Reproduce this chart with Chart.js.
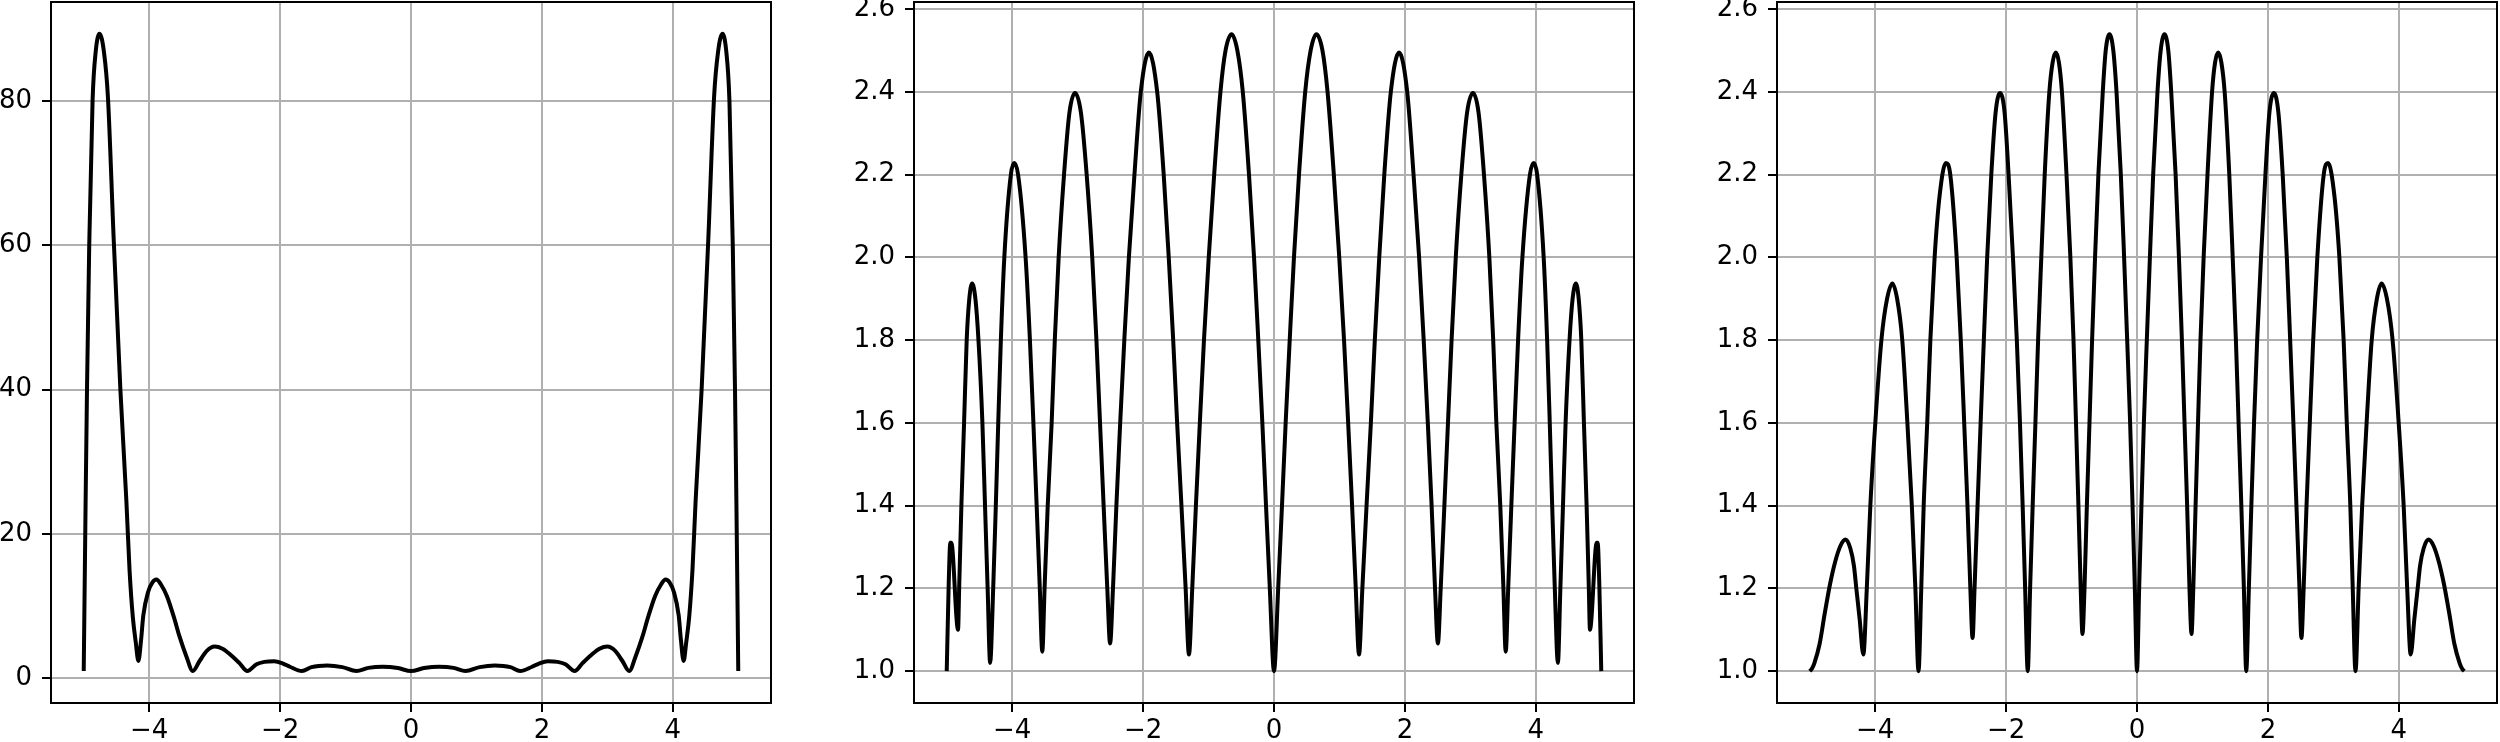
<!DOCTYPE html>
<html>
<head>
<meta charset="utf-8">
<script src="https://cdn.jsdelivr.net/npm/chart.js@4.4.1/dist/chart.umd.min.js"></script>
<style>
  html, body { margin: 0; padding: 0; background: #fff; }
  body { width: 2500px; height: 742px; position: relative; overflow: hidden; }
  canvas { position: absolute; top: 0; }
</style>
</head>
<body>
<canvas id="equiChart" width="780" height="742" style="left:0px"></canvas>
<canvas id="middleChart" width="830" height="742" style="left:814px"></canvas>
<canvas id="rightChart" width="823" height="742" style="left:1677px"></canvas>
<script>
// tick positions shared by the three panels
const xTicks = [-4, -2, 0, 2, 4];
const yTicksLeft = [0, 20, 40, 60, 80];
const yTicksRatio = [1.0, 1.2, 1.4, 1.6, 1.8, 2.0, 2.2, 2.4, 2.6];

// left panel: [x, value], lobe by lobe
const equiPoints = [
    [-5.0, 1.0], [-4.971, 24.7], [-4.95, 40], [-4.916, 60], [-4.865, 80], [-4.815, 87], [-4.758, 89.3],
    [-4.69, 86.7], [-4.63, 80.5], [-4.543, 61], [-4.44, 40], [-4.349, 24.7], [-4.30, 15], [-4.25, 8.5], [-4.205, 5.0], [-4.165, 2.4],
    [-4.124, 5.3], [-4.09, 8.7], [-4.015, 12.0], [-3.95, 13.3], [-3.89, 13.7], [-3.82, 13.0], [-3.73, 11.4], [-3.62, 8.4], [-3.537, 5.8], [-3.43, 3.0], [-3.333, 1.0],
    [-3.23, 2.4], [-3.12, 3.8], [-3.0, 4.4], [-2.88, 4.1], [-2.75, 3.2], [-2.62, 2.1], [-2.5, 1.0],
    [-2.36, 1.95], [-2.24, 2.28], [-2.09, 2.38], [-1.955, 2.05], [-1.85, 1.6], [-1.667, 1.0],
    [-1.52, 1.55], [-1.28, 1.78], [-1.05, 1.55], [-0.833, 1.0],
    [-0.65, 1.45], [-0.43, 1.6], [-0.2, 1.42], [0, 1.0],
    [0.2, 1.42], [0.43, 1.6], [0.65, 1.45], [0.833, 1.0],
    [1.05, 1.55], [1.28, 1.78], [1.52, 1.55], [1.667, 1.0],
    [1.85, 1.6], [1.955, 2.05], [2.09, 2.38], [2.24, 2.28], [2.36, 1.95], [2.5, 1.0],
    [2.62, 2.1], [2.75, 3.2], [2.88, 4.1], [3.0, 4.4], [3.12, 3.8], [3.23, 2.4], [3.333, 1.0],
    [3.43, 3.0], [3.537, 5.8], [3.62, 8.4], [3.73, 11.4], [3.82, 13.0], [3.89, 13.7], [3.95, 13.3], [4.015, 12.0], [4.09, 8.7], [4.124, 5.3],
    [4.165, 2.4], [4.205, 5.0], [4.25, 8.5], [4.30, 15], [4.349, 24.7], [4.44, 40], [4.543, 61], [4.63, 80.5], [4.69, 86.7],
    [4.758, 89.3], [4.815, 87], [4.865, 80], [4.916, 60], [4.95, 40], [4.971, 24.7], [5.0, 1.0]
];

// middle panel
const middlePoints = [
    [-5.0, 1.0], [-4.97, 1.21], [-4.945, 1.31], [-4.93, 1.31], [-4.827, 1.10],
    [-4.81, 1.2], [-4.776, 1.4], [-4.735, 1.6], [-4.695, 1.8], [-4.655, 1.9], [-4.612, 1.937],
    [-4.562, 1.9], [-4.515, 1.8], [-4.455, 1.6], [-4.415, 1.4], [-4.375, 1.2], [-4.337, 1.02],
    [-4.29, 1.2], [-4.25, 1.4], [-4.213, 1.6], [-4.173, 1.8], [-4.12, 2.0], [-4.02, 2.2], [-3.969, 2.228],
    [-3.91, 2.2], [-3.795, 2.0], [-3.729, 1.8], [-3.676, 1.6], [-3.626, 1.4], [-3.578, 1.2], [-3.54, 1.047],
    [-3.505, 1.2], [-3.457, 1.4], [-3.397, 1.6], [-3.349, 1.8], [-3.29, 2.0], [-3.208, 2.2], [-3.125, 2.35], [-3.04, 2.397],
    [-2.95, 2.35], [-2.862, 2.2], [-2.777, 2.0], [-2.713, 1.8], [-2.658, 1.6], [-2.603, 1.4], [-2.547, 1.2], [-2.504, 1.067],
    [-2.46, 1.2], [-2.408, 1.4], [-2.35, 1.6], [-2.287, 1.8], [-2.217, 2.0], [-2.132, 2.2], [-2.035, 2.4], [-1.911, 2.495],
    [-1.785, 2.4], [-1.685, 2.2], [-1.608, 2.0], [-1.54, 1.8], [-1.48, 1.6], [-1.414, 1.4], [-1.35, 1.2], [-1.299, 1.04],
    [-1.249, 1.2], [-1.193, 1.4], [-1.133, 1.6], [-1.07, 1.8], [-0.997, 2.0], [-0.914, 2.2], [-0.818, 2.4], [-0.74, 2.5], [-0.648, 2.539],
    [-0.56, 2.5], [-0.477, 2.4], [-0.382, 2.2], [-0.305, 2.0], [-0.24, 1.8], [-0.178, 1.6], [-0.122, 1.4], [-0.064, 1.2], [0, 1.0],
    [0.064, 1.2], [0.122, 1.4], [0.178, 1.6], [0.24, 1.8], [0.305, 2.0], [0.382, 2.2], [0.477, 2.4], [0.56, 2.5], [0.648, 2.539],
    [0.74, 2.5], [0.818, 2.4], [0.914, 2.2], [0.997, 2.0], [1.07, 1.8], [1.133, 1.6], [1.193, 1.4], [1.249, 1.2], [1.299, 1.04],
    [1.35, 1.2], [1.414, 1.4], [1.48, 1.6], [1.54, 1.8], [1.608, 2.0], [1.685, 2.2], [1.785, 2.4], [1.911, 2.495],
    [2.035, 2.4], [2.132, 2.2], [2.217, 2.0], [2.287, 1.8], [2.35, 1.6], [2.408, 1.4], [2.46, 1.2], [2.504, 1.067],
    [2.547, 1.2], [2.603, 1.4], [2.658, 1.6], [2.713, 1.8], [2.777, 2.0], [2.862, 2.2], [2.95, 2.35], [3.04, 2.397],
    [3.125, 2.35], [3.208, 2.2], [3.29, 2.0], [3.349, 1.8], [3.397, 1.6], [3.457, 1.4], [3.505, 1.2], [3.54, 1.047],
    [3.578, 1.2], [3.626, 1.4], [3.676, 1.6], [3.729, 1.8], [3.795, 2.0], [3.91, 2.2], [3.969, 2.228],
    [4.02, 2.2], [4.12, 2.0], [4.173, 1.8], [4.213, 1.6], [4.25, 1.4], [4.29, 1.2], [4.337, 1.02],
    [4.375, 1.2], [4.415, 1.4], [4.455, 1.6], [4.515, 1.8], [4.562, 1.9], [4.612, 1.937],
    [4.655, 1.9], [4.695, 1.8], [4.735, 1.6], [4.776, 1.4], [4.81, 1.2], [4.827, 1.10],
    [4.93, 1.31], [4.945, 1.31], [4.97, 1.21], [5.0, 1.0]
];

// right panel
const rightPoints = [
    [-5.0, 1.0], [-4.97, 1.005], [-4.93, 1.019], [-4.85, 1.065], [-4.77, 1.14], [-4.69, 1.21], [-4.61, 1.265], [-4.53, 1.303], [-4.452, 1.318],
    [-4.38, 1.297], [-4.325, 1.255], [-4.288, 1.2], [-4.237, 1.125], [-4.181, 1.04],
    [-4.128, 1.2], [-4.074, 1.4], [-3.998, 1.6], [-3.905, 1.8], [-3.818, 1.9], [-3.737, 1.937],
    [-3.665, 1.9], [-3.586, 1.8], [-3.508, 1.6], [-3.44, 1.4], [-3.386, 1.2], [-3.338, 1.0],
    [-3.296, 1.2], [-3.259, 1.4], [-3.205, 1.6], [-3.157, 1.8], [-3.092, 2.0], [-3.015, 2.15], [-2.92, 2.228],
    [-2.853, 2.2], [-2.755, 2.0], [-2.692, 1.8], [-2.64, 1.6], [-2.59, 1.4], [-2.546, 1.2], [-2.512, 1.08],
    [-2.482, 1.2], [-2.436, 1.4], [-2.389, 1.6], [-2.34, 1.8], [-2.289, 2.0], [-2.226, 2.2], [-2.16, 2.35], [-2.093, 2.397],
    [-2.023, 2.35], [-1.962, 2.2], [-1.895, 2.0], [-1.836, 1.8], [-1.788, 1.6], [-1.747, 1.4], [-1.709, 1.2], [-1.669, 1.0],
    [-1.633, 1.2], [-1.594, 1.4], [-1.552, 1.6], [-1.511, 1.8], [-1.462, 2.0], [-1.41, 2.2], [-1.339, 2.4], [-1.29, 2.47], [-1.241, 2.495],
    [-1.192, 2.47], [-1.147, 2.4], [-1.077, 2.2], [-1.018, 2.0], [-0.97, 1.8], [-0.932, 1.6], [-0.895, 1.4], [-0.86, 1.2], [-0.833, 1.09],
    [-0.802, 1.2], [-0.766, 1.4], [-0.726, 1.6], [-0.686, 1.8], [-0.641, 2.0], [-0.59, 2.2], [-0.523, 2.4], [-0.478, 2.5], [-0.419, 2.539],
    [-0.362, 2.5], [-0.313, 2.4], [-0.247, 2.2], [-0.197, 2.0], [-0.15, 1.8], [-0.105, 1.6], [-0.068, 1.4], [-0.033, 1.2], [0, 1.0],
    [0.033, 1.2], [0.068, 1.4], [0.105, 1.6], [0.15, 1.8], [0.197, 2.0], [0.247, 2.2], [0.313, 2.4], [0.362, 2.5], [0.419, 2.539],
    [0.478, 2.5], [0.523, 2.4], [0.59, 2.2], [0.641, 2.0], [0.686, 1.8], [0.726, 1.6], [0.766, 1.4], [0.802, 1.2], [0.833, 1.09],
    [0.86, 1.2], [0.895, 1.4], [0.932, 1.6], [0.97, 1.8], [1.018, 2.0], [1.077, 2.2], [1.147, 2.4], [1.192, 2.47], [1.241, 2.495],
    [1.29, 2.47], [1.339, 2.4], [1.41, 2.2], [1.462, 2.0], [1.511, 1.8], [1.552, 1.6], [1.594, 1.4], [1.633, 1.2], [1.669, 1.0],
    [1.709, 1.2], [1.747, 1.4], [1.788, 1.6], [1.836, 1.8], [1.895, 2.0], [1.962, 2.2], [2.023, 2.35], [2.093, 2.397],
    [2.16, 2.35], [2.226, 2.2], [2.289, 2.0], [2.34, 1.8], [2.389, 1.6], [2.436, 1.4], [2.482, 1.2], [2.512, 1.08],
    [2.546, 1.2], [2.59, 1.4], [2.64, 1.6], [2.692, 1.8], [2.755, 2.0], [2.853, 2.2], [2.92, 2.228],
    [3.015, 2.15], [3.092, 2.0], [3.157, 1.8], [3.205, 1.6], [3.259, 1.4], [3.296, 1.2], [3.338, 1.0],
    [3.386, 1.2], [3.44, 1.4], [3.508, 1.6], [3.586, 1.8], [3.665, 1.9], [3.737, 1.937],
    [3.818, 1.9], [3.905, 1.8], [3.998, 1.6], [4.074, 1.4], [4.128, 1.2], [4.181, 1.04],
    [4.237, 1.125], [4.288, 1.2], [4.325, 1.255], [4.38, 1.297], [4.452, 1.318],
    [4.53, 1.303], [4.61, 1.265], [4.69, 1.21], [4.77, 1.14], [4.85, 1.065], [4.93, 1.019], [4.97, 1.005], [5.0, 1.0]
];

Chart.defaults.font.family = "'DejaVu Sans', sans-serif";
Chart.defaults.font.size = 26;
Chart.defaults.color = '#000';

// matplotlib-like frame drawn on top of everything
var framePlugin = {
    id: 'frame',
    afterDraw: function(chart) {
        var a = chart.chartArea;
        var ctx = chart.ctx;
        ctx.save();
        ctx.strokeStyle = '#000';
        ctx.lineWidth = 2;
        ctx.strokeRect(a.left, a.top, a.right - a.left, a.bottom - a.top);
        ctx.restore();
    }
};

function minusLabel(v) {
    return v < 0 ? '\u2212' + Math.abs(v) : String(v);
}

function makePanel(id, points, yMin, yMax, yTicks, yLabel, axisWidth, padRight) {
    var ctx = document.getElementById(id).getContext('2d');
    return new Chart(ctx, {
        type: 'line',
        data: {
            datasets: [{
                data: points.map(function(p) { return { x: p[0], y: p[1] }; }),
                borderColor: '#000',
                borderWidth: 4,
                pointRadius: 0,
                fill: false,
                cubicInterpolationMode: 'monotone',
                borderJoinStyle: 'round'
            }]
        },
        options: {
            responsive: false,
            animation: false,
            events: [],
            layout: { padding: { top: 2, right: padRight, bottom: 0, left: 0 } },
            plugins: { legend: { display: false }, tooltip: { enabled: false } },
            scales: {
                x: {
                    type: 'linear',
                    min: -5.5,
                    max: 5.5,
                    afterBuildTicks: function(s) { s.ticks = xTicks.map(function(v) { return { value: v }; }); },
                    afterFit: function(s) { s.height = 39; s.paddingLeft = 0; s.paddingRight = 0; },
                    ticks: { padding: 4, maxRotation: 0, autoSkip: false, callback: minusLabel },
                    grid: { color: '#b0b0b0', lineWidth: 2, tickColor: '#000', tickWidth: 2, tickLength: 9 },
                    border: { display: false }
                },
                y: {
                    type: 'linear',
                    min: yMin,
                    max: yMax,
                    afterBuildTicks: function(s) { s.ticks = yTicks.map(function(v) { return { value: v }; }); },
                    afterFit: function(s) { s.width = axisWidth; s.paddingTop = 0; s.paddingBottom = 0; },
                    ticks: { padding: 10, autoSkip: false, callback: yLabel },
                    grid: { color: '#b0b0b0', lineWidth: 2, tickColor: '#000', tickWidth: 2, tickLength: 9 },
                    border: { display: false }
                }
            }
        },
        plugins: [framePlugin]
    });
}

makePanel('equiChart', equiPoints, -3.42, 93.7, yTicksLeft, function(v) { return String(v); }, 51, 9);
makePanel('middleChart', middlePoints, 0.923, 2.617, yTicksRatio, function(v) { return v.toFixed(1); }, 100, 10);
makePanel('rightChart', rightPoints, 0.923, 2.617, yTicksRatio, function(v) { return v.toFixed(1); }, 100, 3);
</script>
</body>
</html>
